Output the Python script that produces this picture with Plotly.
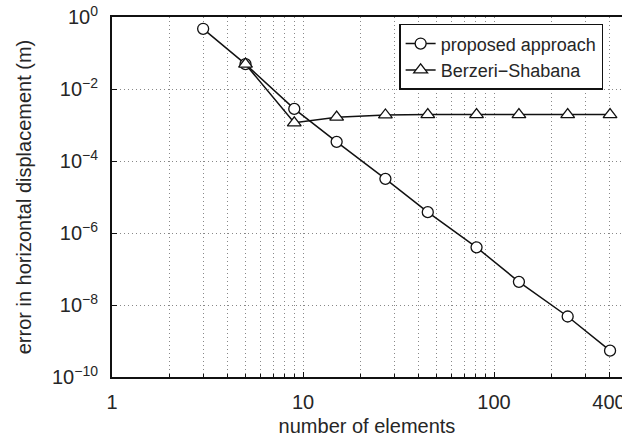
import plotly.graph_objects as go

# Data
n_proposed = [3, 5, 9, 15, 27, 45, 81, 135, 243, 405]
err_proposed = [0.47, 0.049, 2.8e-3, 3.4e-4, 3.2e-5, 3.8e-6, 4.0e-7, 4.4e-8, 4.8e-9, 5.4e-10]
n_berzeri = [5, 9, 15, 27, 45, 81, 135, 243, 405]
err_berzeri = [0.049, 1.15e-3, 1.65e-3, 1.9e-3, 1.95e-3, 1.95e-3, 1.95e-3, 1.95e-3, 1.95e-3]

x_tickvals = [1, 10, 100, 400]
x_ticktext = ["1", "10", "100", "400"]
x_minor = [2, 3, 4, 5, 6, 7, 8, 9, 10, 20, 30, 40, 50, 60, 70, 80, 90, 100, 200, 300, 400]
y_tickvals = [1, 1e-2, 1e-4, 1e-6, 1e-8, 1e-10]
y_ticktext = ["10<sup>0</sup>", "10<sup>−2</sup>", "10<sup>−4</sup>", "10<sup>−6</sup>",
              "10<sup>−8</sup>", "10<sup>−10</sup>"]

fig = go.Figure()
fig.add_trace(go.Scatter(
    x=n_proposed, y=err_proposed, mode="lines+markers", name="proposed approach",
    line=dict(color="#111", width=1.5),
    marker=dict(symbol="circle", size=11, color="white", line=dict(color="#111", width=1.3)),
))
fig.add_trace(go.Scatter(
    x=n_berzeri, y=err_berzeri, mode="lines+markers", name="Berzeri−Shabana",
    line=dict(color="#111", width=1.5),
    marker=dict(symbol="triangle-up", size=12, color="white", line=dict(color="#111", width=1.3)),
))

font = "Liberation Sans, Arial, Helvetica, sans-serif"
txt = "#262626"
fig.update_layout(
    width=622, height=441,
    margin=dict(l=112, r=0, t=17, b=64, autoexpand=False),
    paper_bgcolor="white", plot_bgcolor="white",
    font=dict(family=font, size=20, color=txt),
    showlegend=True,
    legend=dict(
        x=0.563, y=0.981, xanchor="left", yanchor="top",
        bgcolor="white", bordercolor="#111", borderwidth=1.5,
        font=dict(size=18, color=txt),
        tracegroupgap=0, itemwidth=30,
        entrywidth=188, entrywidthmode="pixels",
    ),
    xaxis=dict(
        type="log", range=[0, 2.67], automargin=False,
        tickmode="array", tickvals=x_tickvals, ticktext=x_ticktext,
        ticks="inside", ticklen=5, tickcolor="#111",
        ticklabelstandoff=6, ticklabeloverflow="allow",
        showgrid=False, zeroline=False,
        showline=True, linecolor="#111", linewidth=2, mirror=True,
        title=dict(text="number of elements", font=dict(size=20), standoff=7),
        minor=dict(tickmode="array", tickvals=x_minor, showgrid=True,
                   gridcolor="#888", griddash="1px,3px", gridwidth=1,
                   ticks="inside", ticklen=3, tickcolor="#111"),
    ),
    yaxis=dict(
        type="log", range=[-10, 0], automargin=False,
        tickmode="array", tickvals=y_tickvals, ticktext=y_ticktext,
        ticks="inside", ticklen=5, tickcolor="#111",
        ticklabelstandoff=8,
        showgrid=True, gridcolor="#888", griddash="1px,3px", gridwidth=1,
        zeroline=False,
        showline=True, linecolor="#111", linewidth=2,
        title=dict(text="error in horizontal displacement (m)", font=dict(size=20), standoff=15),
    ),
)

fig.write_html("out.html")
